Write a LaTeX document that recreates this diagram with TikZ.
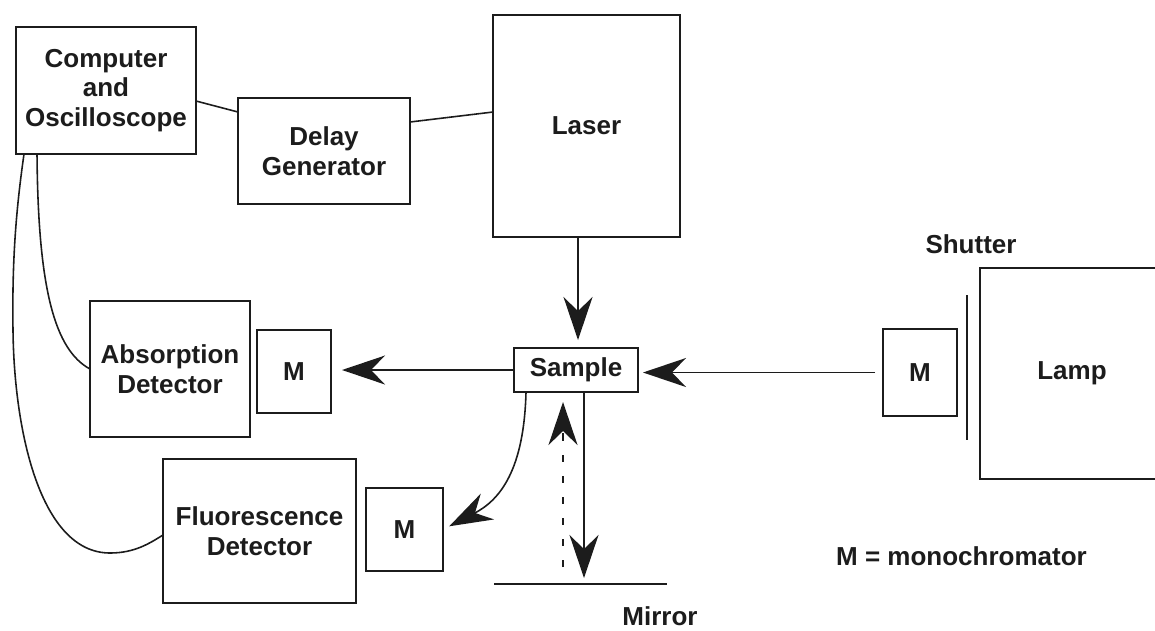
\documentclass[tikz,border=0pt]{standalone}
\usepackage{fontspec}
\setmainfont{Liberation Sans}
\usetikzlibrary{arrows.meta,calc}
\definecolor{ink}{HTML}{1C1C1C}
\newcommand\diaglbl{\bfseries\fontsize{14.8}{17}\selectfont}
\begin{document}
\begin{tikzpicture}[x=0.02cm,y=-0.02cm,
  box/.style={draw=ink,line width=1.1pt,rectangle,inner sep=0pt,outer sep=0pt,align=center,text=ink,font=\diaglbl},
  lbl/.style={text=ink,font=\diaglbl,inner sep=0pt},
  wire/.style={draw=ink,line width=0.9pt},
  beam/.style={wire,-{Stealth[length=0.86cm,width=0.58cm,inset=0.28cm]}},
]
\clip (0,0) rectangle (1155,630);
\fill[white] (0,0) rectangle (1155,630);

\node[box,minimum width=3.6cm,minimum height=2.54cm] (comp) at (106,90.5) {Computer\\and\\Oscilloscope};
\node[box,minimum width=3.44cm,minimum height=2.12cm] (delay) at (324,151) {Delay\\Generator};
\node[box,minimum width=3.74cm,minimum height=4.44cm] (laser) at (586.5,126) {Laser};
\node[box,minimum width=3.2cm,minimum height=2.72cm] (abs) at (170,369) {Absorption\\Detector};
\node[box,minimum width=1.48cm,minimum height=1.66cm] (mabs) at (294,371.5) {M};
\node[box,minimum width=2.48cm,minimum height=0.88cm] (sample) at (576,370) {Sample};
\node[box,minimum width=1.48cm,minimum height=1.74cm] (mlamp) at (920,372.5) {M};
\node[box,minimum width=3.68cm,minimum height=4.22cm] (lamp) at (1072,373.5) {Lamp};
\node[box,minimum width=3.86cm,minimum height=2.88cm] (fl) at (259.5,531) {Fluorescence\\Detector};
\node[box,minimum width=1.54cm,minimum height=1.66cm] (mfl) at (404.5,529.5) {M};

\coordinate (shT) at (967,295);
\coordinate (shB) at (967,440);
\draw[wire,line width=1.3pt] (shT) -- (shB);
\node[lbl,anchor=base] (shutter) at (971,253) {Shutter};

\coordinate (mirL) at (494,584);
\coordinate (mirR) at (667,584);
\draw[wire,line width=1.1pt] (mirL) -- (mirR);
\node[lbl,anchor=base] (mirror) at (660,625) {Mirror};

\node[lbl,anchor=base] (legend) at (961.5,565) {M = monochromator};

\draw[wire] ([yshift=-0.21cm]comp.east) -- ([yshift=0.78cm]delay.west);
\draw[wire] ([yshift=0.58cm]delay.east) -- ([yshift=0.28cm]laser.west);
\draw[beam,shorten >=0.16cm] ([xshift=-0.17cm]laser.south) -- ([xshift=-0.17cm]laser.south |- sample.north);
\draw[beam,shorten >=0.22cm] (sample.west) -- (sample.west -| mabs.east);
\draw[beam,shorten <=0.16cm,shorten >=0.1cm] (mlamp.west) -- (mlamp.west -| sample.east);
\draw[beam,shorten >=0.14cm] ([xshift=-1cm]sample.south) .. controls (524,470) and (500,500) .. (mfl.east);
\draw[beam,shorten >=0.12cm] ([xshift=0.16cm]sample.south) -- ([xshift=0.16cm]sample.south |- mirL);
\draw[beam,line width=1.5pt,dash pattern=on 4pt off 8pt,shorten <=0.34cm,shorten >=0.2cm] ([xshift=-0.26cm]sample.south |- mirL) -- ([xshift=-0.26cm]sample.south);

\draw[wire] ([xshift=0.42cm]comp.south west) .. controls (38,290) and (55,350) .. (abs.west);
\draw[wire] ([xshift=0.16cm]comp.south west) .. controls (16,210) and (12,260) .. (13,330) .. controls (14,430) and (40,553) .. (110,553) .. controls (135,553) and (150,543) .. ([yshift=-0.08cm]fl.west);
\end{tikzpicture}
\end{document}
